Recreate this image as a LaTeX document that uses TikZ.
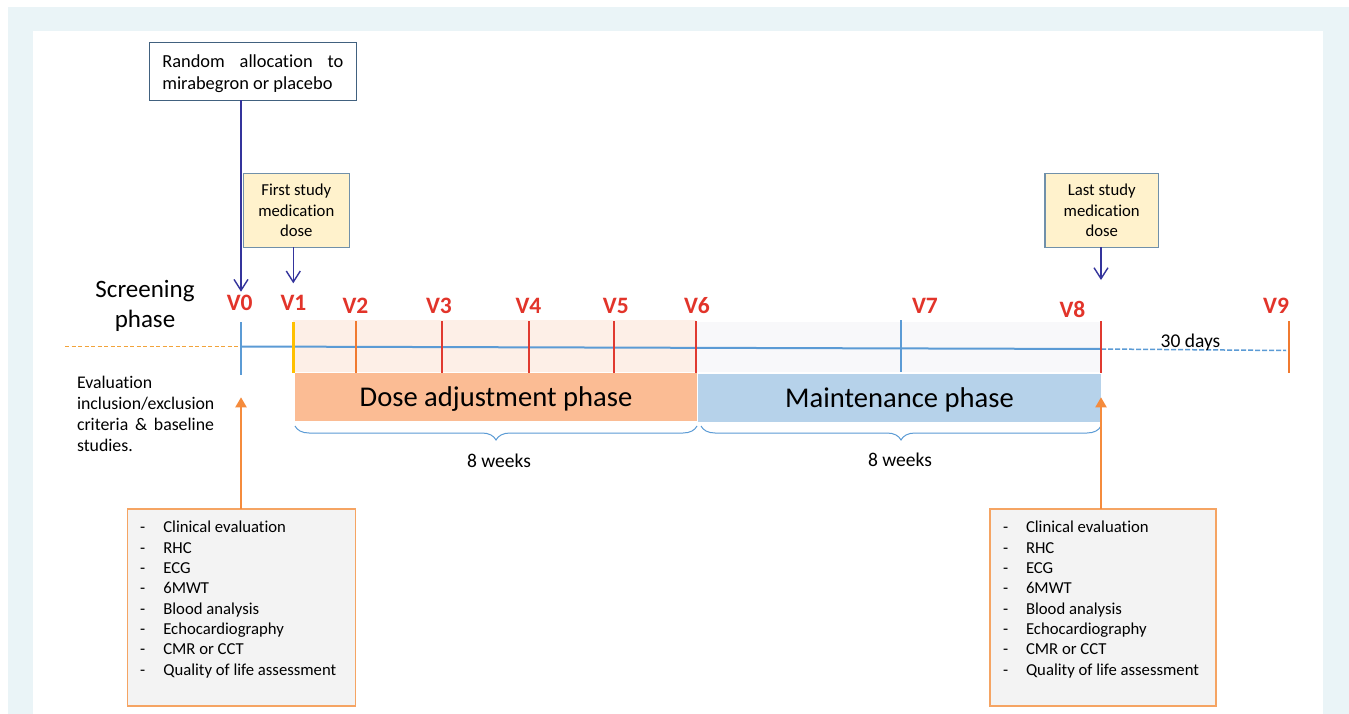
\documentclass[tikz,border=0pt]{standalone}
\usepackage{fontspec}
\setmainfont{Carlito}[Ligatures=NoCommon]
\usetikzlibrary{arrows.meta,decorations.pathreplacing}
\definecolor{framec}{HTML}{EAF4F7}
\definecolor{navyc}{HTML}{34349C}
\definecolor{vred}{HTML}{E2342A}
\definecolor{tred}{HTML}{E03A30}
\definecolor{lblue}{HTML}{5B9BD5}
\definecolor{boxline}{HTML}{41617F}
\definecolor{ybox}{HTML}{FFF2CC}
\definecolor{yboxline}{HTML}{7090AA}
\definecolor{peachband}{HTML}{FDEFE7}
\definecolor{grayband}{HTML}{F8F8FA}
\definecolor{dosefill}{HTML}{FBBC94}
\definecolor{maintfill}{HTML}{B6D2EA}
\definecolor{orarrow}{HTML}{F58B3C}
\definecolor{listline}{HTML}{F5A463}
\definecolor{listfill}{HTML}{F3F3F3}
\definecolor{ytick}{HTML}{FFC000}
\definecolor{odash}{HTML}{F2A33A}
\definecolor{otick}{HTML}{F07A30}
\begin{document}
\begin{tikzpicture}[x=1pt,y=-1pt,
  every node/.style={inner sep=0pt, outer sep=0pt},
  small/.style={font=\fontsize{16.7}{20.33}\selectfont},
  vlab/.style={font=\fontsize{23.5}{26}\selectfont\bfseries, text=vred, anchor=base},
  tickline/.style={line width=2pt},
  navyarrow/.style={draw=navyc, line width=1.4pt, -{Straight Barb[length=11pt,width=14pt]}},
  orangearrow/.style={draw=orarrow, line width=2pt, -{Triangle[length=10pt,width=11pt]}},
  ybox/.style={draw=yboxline, line width=1.2pt, fill=ybox, small, align=center, minimum width=106, minimum height=74, anchor=north west},
  phasebox/.style={minimum height=48, anchor=north west, font=\fontsize{28.6}{32}\selectfont, text height=18.5pt, text depth=0pt},
  listbox/.style={draw=listline, line width=1.3pt, fill=listfill, minimum width=228, minimum height=197, anchor=north west},
  bracec/.style={draw=lblue, line width=1pt, decorate, decoration={brace, amplitude=14pt, aspect=0.5}},
]
\useasboundingbox (0,0) rectangle (1349,714);
\fill[framec] (8,7) rectangle (1349,714);
\fill[white] (33,31) rectangle (1323,714);

% bands
\fill[peachband] (293,320) rectangle (696,372);
\fill[grayband] (697,322) rectangle (1101,372);

% phase boxes
\node[phasebox, fill=dosefill, minimum width=402] (dose) at (295,373) {Dose adjustment phase};
\node[phasebox, fill=maintfill, minimum width=403] (maint) at (698,374) {Maintenance phase};

% timeline
\coordinate (tl0) at (241,346.5);
\coordinate (tl8) at (1101,349);
\coordinate (tlstart) at (65,346.5);
\coordinate (tlend) at (1286,350.5);
\draw[odash, line width=1.5pt, dash pattern=on 4pt off 2.5pt] (tlstart) -- (tl0);
\draw[lblue, line width=2pt] (tl0) -- (tl8);
\draw[lblue, line width=1.5pt, dash pattern=on 5pt off 2pt] (tl8) -- (tlend);

% ticks
\coordinate (t0a) at (241,322); \coordinate (t0b) at (241,375);
\coordinate (t1a) at (293.5,322); \coordinate (t1b) at (293.5,373);
\coordinate (t2a) at (356,321); \coordinate (t2b) at (356,373);
\coordinate (t3a) at (442,321); \coordinate (t3b) at (442,373);
\coordinate (t4a) at (529,321); \coordinate (t4b) at (529,373);
\coordinate (t5a) at (614,321); \coordinate (t5b) at (614,373);
\coordinate (t6a) at (696,321); \coordinate (t6b) at (696,373);
\coordinate (t7a) at (901,320); \coordinate (t7b) at (901,372);
\coordinate (t8a) at (1101,321); \coordinate (t8b) at (1101,373);
\coordinate (t9a) at (1288.5,321); \coordinate (t9b) at (1288.5,373);
\draw[lblue, line width=1.5pt] (t0a) -- (t0b);
\draw[ytick, line width=3pt] (t1a) -- (t1b);
\draw[otick, tickline] (t2a) -- (t2b);
\draw[tred, tickline] (t3a) -- (t3b);
\draw[tred, tickline] (t4a) -- (t4b);
\draw[tred, tickline] (t5a) -- (t5b);
\draw[tred, tickline] (t6a) -- (t6b);
\draw[tred, tickline] (t8a) -- (t8b);
\draw[lblue, tickline] (t7a) -- (t7b);
\draw[otick, tickline] (t9a) -- (t9b);

% V labels
\node[vlab] (v0) at (239.7,310) {V0};
\node[vlab] (v1) at (293.5,310) {V1};
\node[vlab] (v2) at (355.5,313) {V2};
\node[vlab] (v3) at (439,313) {V3};
\node[vlab] (v4) at (528.5,313) {V4};
\node[vlab] (v5) at (615.8,313) {V5};
\node[vlab] (v6) at (697,313) {V6};
\node[vlab] (v7) at (925,313) {V7};
\node[vlab] (v8) at (1072.5,317) {V8};
\node[vlab] (v9) at (1276,313) {V9};

% texts (base anchor = last line's baseline)
\node[font=\fontsize{25}{29.5}\selectfont, align=center, anchor=base] (screen) at (145,327) {Screening\\phase};
\node[font=\fontsize{17.8}{21}\selectfont, align=left, anchor=base west] (evaltext) at (77,451.5)
  {Evaluation\\inclusion/exclusion\\\hbox to 137pt{criteria\hfill\&\hfill baseline}\\studies.};
\node[font=\fontsize{19.5}{22}\selectfont, anchor=base] (w1) at (499,467) {8 weeks};
\node[font=\fontsize{19.5}{22}\selectfont, anchor=base] (w2) at (900,466) {8 weeks};
\node[font=\fontsize{19.5}{22}\selectfont, anchor=base] (days) at (1190.5,347) {30 days};

% braces
\coordinate (b1s) at (697,426); \coordinate (b1e) at (295,426);
\coordinate (b2s) at (1101,426); \coordinate (b2e) at (701,426);
\draw[bracec] (b1s) -- (b1e);
\draw[bracec] (b2s) -- (b2e);

% top boxes
\node[draw=boxline, line width=1.2pt, fill=white, minimum width=207, minimum height=58, anchor=north west] (rand) at (149.3,42.3) {};
\node[font=\fontsize{18.4}{22.7}\selectfont, align=left, anchor=base] (randtext) at (252.8,90)
  {\hbox to 181pt{Random\hfill allocation\hfill to}\\mirabegron or placebo};
\node[ybox] (first) at (243.3,173.3) {First study\\medication\\dose};
\node[ybox, minimum width=113.5] (last) at (1045,173.3) {Last study\\medication\\dose};

% navy arrows
\coordinate (a0) at (241,291.7);
\coordinate (a1) at (293.3,283.3);
\coordinate (a8) at (1101,280);
\draw[navyarrow] (rand.south -| a0) -- (a0);
\draw[navyarrow] (first.south -| a1) -- (a1);
\draw[navyarrow] (last.south -| a8) -- (a8);

% list boxes
\node[listbox] (lbox) at (127.3,509) {};
\node[listbox, minimum width=226] (rbox) at (990,509) {};
\node[small, align=left, anchor=base west] (ltext) at (140,675)
  {\makebox[23.3pt][l]{-}Clinical evaluation\\\makebox[23.3pt][l]{-}RHC\\\makebox[23.3pt][l]{-}ECG\\\makebox[23.3pt][l]{-}6MWT\\\makebox[23.3pt][l]{-}Blood analysis\\\makebox[23.3pt][l]{-}Echocardiography\\\makebox[23.3pt][l]{-}CMR or CCT\\\makebox[23.3pt][l]{-}Quality of life assessment};
\node[small, align=left, anchor=base west] (rtext) at (1003,675)
  {\makebox[23pt][l]{-}Clinical evaluation\\\makebox[23pt][l]{-}RHC\\\makebox[23pt][l]{-}ECG\\\makebox[23pt][l]{-}6MWT\\\makebox[23pt][l]{-}Blood analysis\\\makebox[23pt][l]{-}Echocardiography\\\makebox[23pt][l]{-}CMR or CCT\\\makebox[23pt][l]{-}Quality of life assessment};

% orange arrows
\coordinate (o0) at (241,397.3);
\coordinate (o8) at (1101,397.3);
\draw[orangearrow] (lbox.north -| o0) -- (o0);
\draw[orangearrow] (rbox.north -| o8) -- (o8);
\end{tikzpicture}
\end{document}
